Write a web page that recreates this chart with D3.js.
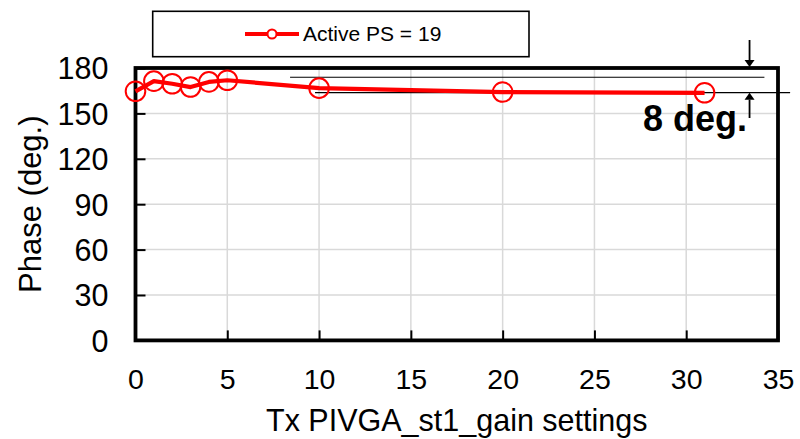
<!DOCTYPE html>
<html>
<head>
<meta charset="utf-8">
<script src="https://cdn.jsdelivr.net/npm/d3@7"></script>
<style>
  html, body { margin: 0; padding: 0; background: #fff; }
  svg { display: block; font-family: "Liberation Sans", Arial, sans-serif; }
</style>
</head>
<body>
<svg id="chart" width="800" height="439"></svg>
<script>
// ---- data ----
const gainSettings = [0, 1, 2, 3, 4, 5, 10, 20, 31];
const phaseValues = [164.6, 171.3, 169.6, 167.4, 170.8, 171.9, 166.7, 164.1, 163.6];
const seriesName = "Active PS = 19";
const xTicks = [0, 5, 10, 15, 20, 25, 30, 35];
const yTicks = [0, 30, 60, 90, 120, 150, 180];
const xTitle = "Tx PIVGA_st1_gain settings";
const yTitle = "Phase (deg.)";
// annotation: spread between max and min level
const refLevels = [173.9, 163.7];
const refStarts = [8.42, 9.78];
const refEnds = [34.26, 35.66];
const spreadLabel = "8 deg.";
const arrowX = 33.45;

(function () {
// ---- layout ----
const svg = d3.select("#chart");
const pL = 135.5, pR = 778, pT = 68, pB = 340.4;
const x = d3.scaleLinear().domain([0, 35]).range([pL, pR]);
const y = d3.scaleLinear().domain([0, 180]).range([pB, pT]);

// grid
const grid = svg.append("g");
grid.selectAll("line.vg").data(xTicks.filter(d => d > 0 && d < 35)).enter().append("line")
  .attr("x1", d => x(d)).attr("x2", d => x(d)).attr("y1", pT).attr("y2", pB)
  .attr("stroke", "#d9d9d9").attr("stroke-width", 1.5);
grid.selectAll("line.hg").data(yTicks.filter(d => d > 0 && d < 180)).enter().append("line")
  .attr("x1", pL).attr("x2", pR).attr("y1", d => y(d)).attr("y2", d => y(d))
  .attr("stroke", "#d9d9d9").attr("stroke-width", 1.5);

// axes (ticks inside)
const xAxis = d3.axisBottom(x).tickValues(xTicks).tickSize(-10).tickPadding(26).tickFormat(d3.format("d"));
const yAxis = d3.axisLeft(y).tickValues(yTicks).tickSize(-10).tickPadding(27).tickFormat(d3.format("d"));
const gx = svg.append("g").attr("transform", `translate(0,${pB})`).call(xAxis);
const gy = svg.append("g").attr("transform", `translate(${pL},0)`).call(yAxis);
gx.select(".domain").remove();
gy.select(".domain").remove();
gx.selectAll(".tick line").attr("stroke", "#000").attr("stroke-width", 2);
gy.selectAll(".tick line").attr("stroke", "#000").attr("stroke-width", 2);
gx.selectAll(".tick text").attr("font-size", 28.5).attr("fill", "#000")
  .attr("font-family", "Liberation Sans, Arial, sans-serif").attr("dy", 0).attr("y", 48.5);
gy.selectAll(".tick text").attr("font-size", 30.5).attr("fill", "#000")
  .attr("font-family", "Liberation Sans, Arial, sans-serif").attr("dy", "0.36em");

// frame
svg.append("rect").attr("x", pL).attr("y", pT).attr("width", pR - pL).attr("height", pB - pT)
  .attr("fill", "none").attr("stroke", "#000").attr("stroke-width", 3.8);

// reference lines
svg.selectAll("line.ref").data(refLevels).enter().append("line")
  .attr("x1", (d, i) => x(refStarts[i])).attr("x2", (d, i) => x(refEnds[i]))
  .attr("y1", d => y(d)).attr("y2", d => y(d))
  .attr("stroke", "#000").attr("stroke-width", 1.2);

// series line
const pts = gainSettings.map((g, i) => [g, phaseValues[i]]);
svg.append("path").datum(pts)
  .attr("d", d3.line().x(d => x(d[0])).y(d => y(d[1])))
  .attr("fill", "none").attr("stroke", "#ff0000").attr("stroke-width", 4.2)
  .attr("stroke-linejoin", "round");
svg.selectAll("circle.pt").data(pts).enter().append("circle")
  .attr("cx", d => x(d[0])).attr("cy", d => y(d[1])).attr("r", 9.8)
  .attr("fill", "none").attr("stroke", "#ff0000").attr("stroke-width", 2);

// arrows
const ax = x(arrowX);
function arrow(y1, y2) {
  const dir = Math.sign(y2 - y1);
  const headLen = 7, headW = 5;
  svg.append("line").attr("x1", ax).attr("x2", ax).attr("y1", y1).attr("y2", y2 - dir * headLen)
    .attr("stroke", "#000").attr("stroke-width", 1.8);
  svg.append("path")
    .attr("d", `M${ax},${y2} L${ax - headW},${y2 - dir * headLen} L${ax + headW},${y2 - dir * headLen} Z`)
    .attr("fill", "#000");
}
arrow(40, y(180) - 1);
arrow(118, y(refLevels[1]));

svg.append("text").attr("x", 747).attr("y", 131).attr("text-anchor", "end")
  .attr("font-size", 36).attr("font-weight", "bold").attr("fill", "#000").text(spreadLabel);

// titles
svg.append("text").attr("x", (pL + pR) / 2).attr("y", 431).attr("text-anchor", "middle")
  .attr("font-size", 30.5).attr("fill", "#000").text(xTitle);
svg.append("text").attr("transform", `translate(41,${(pT + pB) / 2}) rotate(-90)`)
  .attr("text-anchor", "middle").attr("font-size", 31).attr("fill", "#000").text(yTitle);

// legend
const lg = svg.append("g");
lg.append("rect").attr("x", 152.7).attr("y", 11.3).attr("width", 376.3).attr("height", 45.4)
  .attr("fill", "#fff").attr("stroke", "#000").attr("stroke-width", 1.6);
lg.append("line").attr("x1", 245).attr("x2", 299).attr("y1", 34).attr("y2", 34)
  .attr("stroke", "#ff0000").attr("stroke-width", 4.2);
lg.append("circle").attr("cx", 272).attr("cy", 34).attr("r", 4.5)
  .attr("fill", "#fff").attr("stroke", "#ff0000").attr("stroke-width", 2);
lg.append("text").attr("x", 303).attr("y", 41).attr("font-size", 21).attr("fill", "#000").text(seriesName);
})();
</script>
</body>
</html>
